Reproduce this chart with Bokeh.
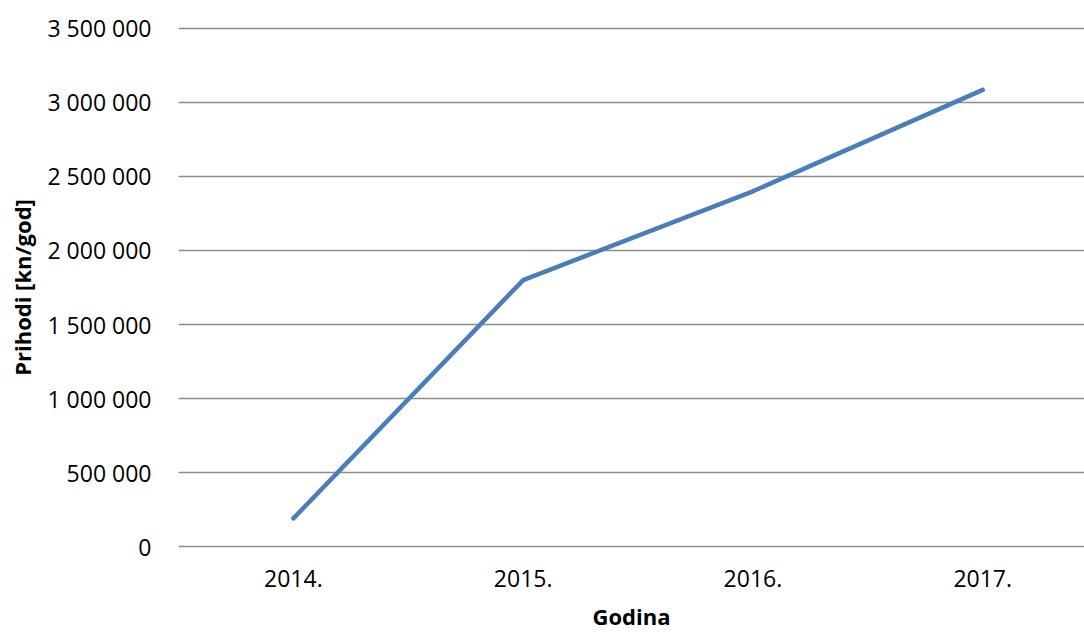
from bokeh.plotting import figure
from bokeh.models import Range1d, FixedTicker, ColumnDataSource
from bokeh.embed import file_html
from bokeh.resources import INLINE

years = ["2014.", "2015.", "2016.", "2017."]
prihodi = [190000, 1800000, 2400000, 3085000]
y_ticks = [0, 500000, 1000000, 1500000, 2000000, 2500000, 3000000, 3500000]

xs = [i + 0.5 for i in range(len(years))]
src = ColumnDataSource(dict(x=xs, y=prihodi))

p = figure(width=1084, height=633, output_backend="svg", toolbar_location=None,
           x_range=Range1d(0, 3.943), y_range=Range1d(-20000, 3520000),
           min_border_left=178, min_border_right=0, min_border_top=25, min_border_bottom=84)
p.outline_line_color = None
p.background_fill_color = "white"
p.border_fill_color = "white"

p.line("x", "y", source=src, line_color="#4a7ebb", line_width=4.5, line_cap="round", line_join="round")

font = "Open Sans"
p.xaxis.ticker = FixedTicker(ticks=xs)
p.xaxis.major_label_overrides = {x: y for x, y in zip(xs, years)}
p.yaxis.ticker = FixedTicker(ticks=y_ticks)
p.yaxis.major_label_overrides = {t: format(t, ",").replace(",", " ") for t in y_ticks}

for ax in (p.xaxis[0], p.yaxis[0]):
    ax.axis_line_color = None
    ax.major_tick_line_color = None
    ax.minor_tick_line_color = None
    ax.major_tick_out = 0
    ax.major_tick_in = 0
    ax.minor_tick_out = 0
    ax.minor_tick_in = 0
    ax.major_label_text_font = font
    ax.major_label_text_font_size = "23px"
    ax.major_label_text_color = "black"
    ax.axis_label_text_font = font
    ax.axis_label_text_font_style = "bold"
    ax.axis_label_text_font_size = "22px"
    ax.axis_label_text_color = "black"

p.xaxis.axis_label = "Godina"
p.yaxis.axis_label = "Prihodi [kn/god]"
p.yaxis.major_label_standoff = 27
p.xaxis.major_label_standoff = 20
p.xaxis.axis_label_standoff = 11
p.yaxis.axis_label_standoff = 7

p.xgrid.grid_line_color = None
p.ygrid.ticker = FixedTicker(ticks=y_ticks)
p.ygrid.grid_line_color = "#8c8c8c"
p.ygrid.grid_line_width = 1.5

open("out.html", "w").write(file_html(p, INLINE))
